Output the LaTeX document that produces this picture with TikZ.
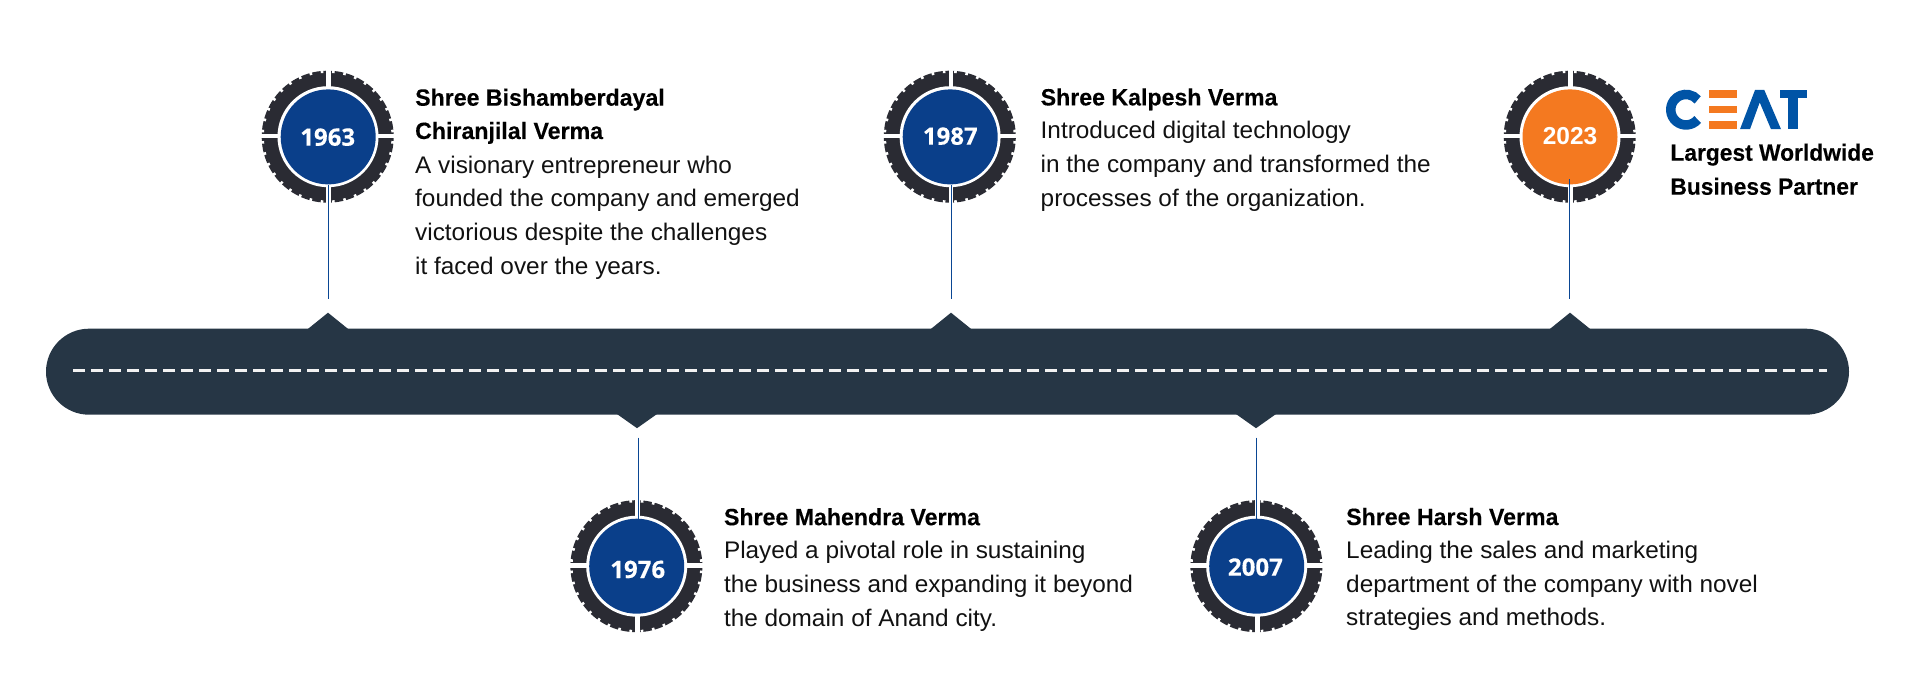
\documentclass[tikz,border=0pt]{standalone}
\usepackage{fontspec}
\setmainfont{Liberation Sans}
\newfontfamily\bodyfont[FakeStretch=1.015]{Liberation Sans}
\newfontfamily\titlefont[FakeStretch=0.985,FakeBold=0.25]{Liberation Sans Bold}
\newfontfamily\partnerfont[FakeStretch=0.97,FakeBold=0.25]{Liberation Sans Bold}
\newfontfamily\yearfont[FakeBold=0.3]{Open Sans Bold}
\newfontfamily\yearfontb{Liberation Sans Bold}
\definecolor{barcol}{HTML}{263645}
\definecolor{tyrecol}{HTML}{2A2B33}
\definecolor{bluecol}{HTML}{0A3F8A}
\definecolor{orangecol}{HTML}{F47920}
\definecolor{linecol}{HTML}{0A4693}
\definecolor{logoblue}{HTML}{0054A6}
\definecolor{dashcol}{HTML}{F2F2F2}
\definecolor{bodycol}{HTML}{111111}
\tikzset{
  titletext/.style={anchor=base west,inner sep=0pt,font=\titlefont\fontsize{23.5}{28}\selectfont,text=black},
  partnertext/.style={anchor=base west,inner sep=0pt,font=\partnerfont\fontsize{23.5}{28}\selectfont,text=black},
  bodytext/.style={anchor=base west,inner sep=0pt,font=\bodyfont\fontsize{24}{28}\selectfont,text=bodycol},
  yeartext/.style={anchor=base,inner sep=0pt,font=\yearfont\fontsize{24}{28}\selectfont,text=white},
  yearcircle/.style={circle,inner sep=0pt,minimum size=95pt},
  conn/.style={draw=linecol,line width=1.1pt},
  barshape/.style={fill=barcol,draw=none},
}
\newcommand{\tyre}[2]{%
  \begin{scope}[shift={(#1,#2)}]
    \fill[tyrecol] (0,0) circle[radius=66];
    \foreach \a in {5,15,...,355}{
      \draw[white,line width=2.6pt] (\a:63.8) -- (\a:68);
    }
    \fill[white] (-1.3,-70) rectangle (3.3,70);
    \fill[white] (-70,-2.8) rectangle (70,1.8);
    \fill[white] (0.3,0) circle[radius=50.5];
  \end{scope}%
}
\begin{document}
\begin{tikzpicture}[x=1pt,y=-1pt]
\useasboundingbox (0,-0.7) rectangle (1920,699.3);
% bar
\fill[barshape,rounded corners=43pt] (46,328) rectangle (1849,414);
\foreach \x in {328,951,1570}{
  \fill[barshape] (\x-21,329) -- (\x,312) -- (\x+21,329) -- cycle;
}
\foreach \x in {637,1256}{
  \fill[barshape] (\x-20.5,413) -- (\x,427.5) -- (\x+20.5,413) -- cycle;
}
\coordinate (dashA) at (73,370);
\coordinate (dashB) at (1827,370);
\draw[dashcol,line width=3.2pt,dash pattern=on 12pt off 6pt] (dashA) -- (dashB);
% tyres
\tyre{327.7}{136}
\tyre{636.4}{565.5}
\tyre{949.8}{136}
\tyre{1256.4}{565.5}
\tyre{1569.7}{136}
\node[yearcircle,fill=bluecol] (c1963) at (328.2,136.2) {};
\node[yearcircle,fill=bluecol] (c1976) at (636.7,565.5) {};
\node[yearcircle,fill=bluecol] (c1987) at (950.2,136.2) {};
\node[yearcircle,fill=bluecol] (c2007) at (1256.7,565.5) {};
\node[yearcircle,fill=orangecol] (c2023) at (1570,136.2) {};
\node[yeartext] (y1963) at (327.7,145) {1963};
\node[yeartext] (y1976) at (637.7,577.3) {1976};
\node[yeartext] (y1987) at (950.3,144) {1987};
\node[yeartext] (y2007) at (1255.4,575) {2007};
\node[yeartext,font=\yearfontb\fontsize{24.5}{28}\selectfont] (y2023) at (1570,144) {2023};
% connectors
\coordinate (e1963) at (328.5,298);
\coordinate (e1976) at (638.5,437);
\coordinate (e1987) at (951.5,298);
\coordinate (e2007) at (1256.5,437);
\coordinate (e2023) at (1569.5,298);
\coordinate (s2023) at (1569.5,178);
\draw[conn] (e1963) -- (c1963.south-|e1963);
\draw[conn] (e1976) -- (c1976.north-|e1976);
\draw[conn] (e1987) -- (c1987.south-|e1987);
\draw[conn] (e2007) -- (c2007.north-|e2007);
\draw[conn] (e2023) -- (s2023);
% text 1963
\node[titletext] (a1) at (415,105) {Shree Bishamberdayal};
\node[titletext] (a2) at (415,138.3) {Chiranjilal Verma};
\node[bodytext] (a3) at (415,172.5) {A visionary entrepreneur who};
\node[bodytext] (a4) at (415,206) {founded the company and emerged};
\node[bodytext] (a5) at (415,240) {victorious despite the challenges};
\node[bodytext] (a6) at (415,273.5) {it faced over the years.};
% text 1976
\node[titletext] (b1) at (723.8,524.5) {Shree Mahendra Verma};
\node[bodytext] (b2) at (723.8,557.7) {Played a pivotal role in sustaining};
\node[bodytext] (b3) at (723.8,591.7) {the business and expanding it beyond};
\node[bodytext] (b4) at (723.8,625.5) {the domain of Anand city.};
% text 1987
\node[titletext] (d1) at (1040.5,104.7) {Shree Kalpesh Verma};
\node[bodytext] (d2) at (1040.5,138) {Introduced digital technology};
\node[bodytext] (d3) at (1040.5,172) {in the company and transformed the};
\node[bodytext] (d4) at (1040.5,205.7) {processes of the organization.};
% text 2007
\node[titletext] (f1) at (1346,524.3) {Shree Harsh Verma};
\node[bodytext] (f2) at (1346,557.7) {Leading the sales and marketing};
\node[bodytext] (f3) at (1346,591.7) {department of the company with novel};
\node[bodytext] (f4) at (1346,625) {strategies and methods.};
% text 2023
\node[partnertext] (g1) at (1670.2,160) {Largest Worldwide};
\node[partnertext] (g2) at (1670.2,194) {Business Partner};
% logo
\draw[logoblue,line width=9.5pt] (1686,109) ++(40:15.25) arc[start angle=40,end angle=320,radius=15.25];
\fill[orangecol] (1709,89.3) rectangle (1737.3,97.3);
\fill[orangecol] (1709,105) rectangle (1737.3,112.7);
\fill[orangecol] (1709,120.5) rectangle (1737.3,128.7);
\fill[logoblue] (1740,128.5) -- (1755,89.3) -- (1764.3,89.3) -- (1781,128.5) -- (1771,128.5) -- (1759.7,101.7) -- (1750,128.5) -- cycle;
\fill[logoblue] (1780,89.3) rectangle (1806.7,97);
\fill[logoblue] (1788.3,97) rectangle (1798.3,128.5);
\end{tikzpicture}
\end{document}
